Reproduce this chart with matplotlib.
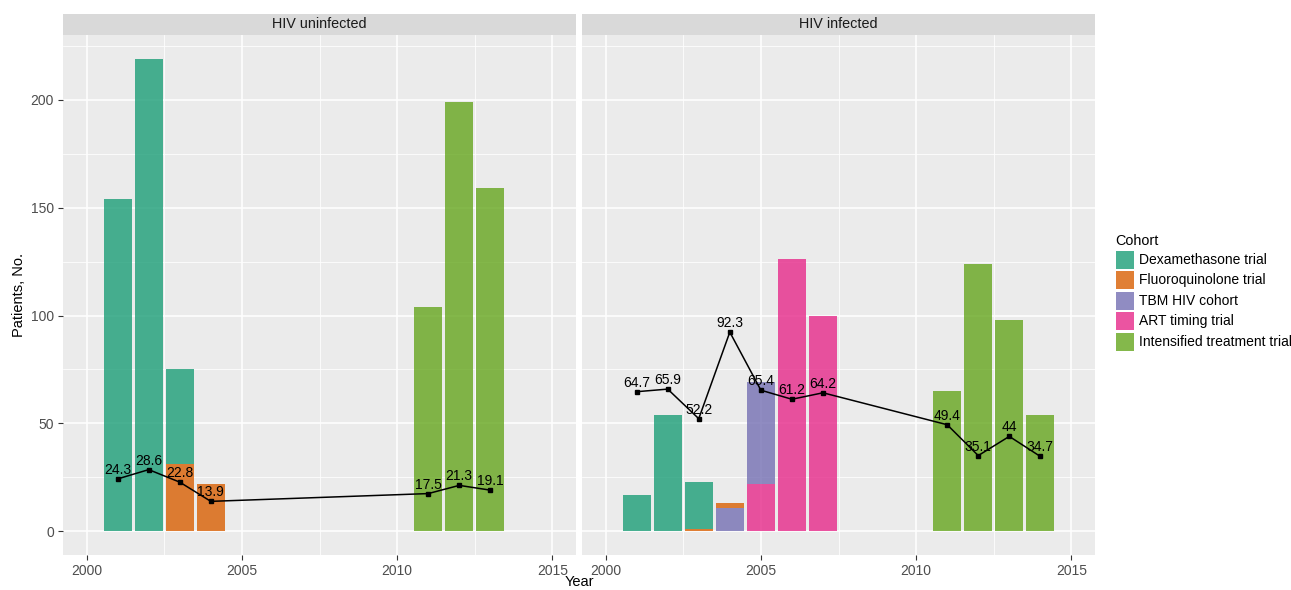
import matplotlib
matplotlib.use("Agg")
import matplotlib.pyplot as plt
from matplotlib.patches import Rectangle
import numpy as np

plt.rcParams['font.family'] = ['Liberation Sans', 'DejaVu Sans']

cohorts = ["Dexamethasone trial", "Fluoroquinolone trial", "TBM HIV cohort",
           "ART timing trial", "Intensified treatment trial"]
colors = ["#1B9E77", "#D95F02", "#7570B3", "#E7298A", "#66A61E"]

# HIV uninfected
years_un = [2001, 2002, 2003, 2004, 2011, 2012, 2013]
dexa_un = [154, 219, 44, 0, 0, 0, 0]
fluoro_un = [0, 0, 31, 22, 0, 0, 0]
tbm_un = [0, 0, 0, 0, 0, 0, 0]
art_un = [0, 0, 0, 0, 0, 0, 0]
intens_un = [0, 0, 0, 0, 104, 199, 159]
line_un = [24.3, 28.6, 22.8, 13.9, 17.5, 21.3, 19.1]

# HIV infected
years_in = [2001, 2002, 2003, 2004, 2005, 2006, 2007, 2011, 2012, 2013, 2014]
dexa_in = [17, 54, 22, 0, 0, 0, 0, 0, 0, 0, 0]
fluoro_in = [0, 0, 1, 2, 0, 0, 0, 0, 0, 0, 0]
tbm_in = [0, 0, 0, 11, 47, 0, 0, 0, 0, 0, 0]
art_in = [0, 0, 0, 0, 22, 126, 100, 0, 0, 0, 0]
intens_in = [0, 0, 0, 0, 0, 0, 0, 65, 124, 98, 54]
line_in = [64.7, 65.9, 52.2, 92.3, 65.4, 61.2, 64.2, 49.4, 35.1, 44, 34.7]

panels = [
    ("HIV uninfected", years_un, [dexa_un, fluoro_un, tbm_un, art_un, intens_un], line_un),
    ("HIV infected", years_in, [dexa_in, fluoro_in, tbm_in, art_in, intens_in], line_in),
]

W, H = 1291, 590
fig = plt.figure(figsize=(W / 100, H / 100), dpi=100)

panel_x = [63, 582]
pw = 513
ptop, pbot = 35, 555
strip_top = 14

ALPHA = 0.8
bg = "#EBEBEB"

for i, (title, years, stacks, line) in enumerate(panels):
    ax = fig.add_axes([panel_x[i] / W, (H - pbot) / H, pw / W, (pbot - ptop) / H])
    ax.set_facecolor(bg)
    for s in ax.spines.values():
        s.set_visible(False)
    ax.set_xlim(1999.24, 2015.76)
    ax.set_ylim(-10.95, 229.95)
    ax.set_xticks([2000, 2005, 2010, 2015])
    ax.set_xticks([2002.5, 2007.5, 2012.5], minor=True)
    ax.set_yticks([0, 50, 100, 150, 200])
    ax.set_yticks([25, 75, 125, 175, 225], minor=True)
    ax.grid(which='major', color='white', linewidth=1.1)
    ax.grid(which='minor', color='white', linewidth=0.55)
    ax.set_axisbelow(True)
    ax.tick_params(axis='both', which='major', colors='#333333', labelcolor='#4D4D4D',
                   labelsize=10, length=3.5, width=0.8, pad=3)
    ax.tick_params(axis='both', which='minor', length=0)
    if i == 1:
        ax.tick_params(axis='y', which='major', length=0, labelleft=False)
    # stacked bars: last cohort at bottom (ggplot order)
    bottom = np.zeros(len(years))
    for k in reversed(range(len(cohorts))):
        vals = np.array(stacks[k], dtype=float)
        ax.bar(years, vals, width=0.9, bottom=bottom, color=colors[k], alpha=ALPHA,
               linewidth=0, zorder=2)
        bottom += vals
    ax.plot(years, line, color='black', linewidth=1.1, marker='s', markersize=3.0, zorder=3)
    for x, y in zip(years, line):
        lab = f"{y:g}"
        ax.annotate(lab, (x, y), xytext=(0, 1.5), textcoords='offset points',
                    ha='center', va='bottom', fontsize=10, color='black', zorder=4)
    # strip
    sax = fig.add_axes([panel_x[i] / W, (H - ptop) / H, pw / W, (ptop - strip_top) / H])
    sax.set_facecolor("#D9D9D9")
    sax.set_xticks([]); sax.set_yticks([])
    for s in sax.spines.values():
        s.set_visible(False)
    sax.text(0.5, 0.5, title, ha='center', va='center', fontsize=10.4, color='#1A1A1A',
             transform=sax.transAxes)
    if i == 0:
        ax.set_ylabel("Patients, No.", fontsize=10.5, color='black', labelpad=3)

fig.text(579 / W, 1 - 582 / H, "Year", ha='center', va='center', fontsize=10.5, color='black')

# legend
fig.text(1115 / W, 1 - 241 / H, "Cohort", ha='left', va='center', fontsize=10.4, color='black')
key_x, key_w, key_h = 1116, 18, 18
for k, name in enumerate(cohorts):
    y_top = 251 + k * 20.4
    fig.patches.append(Rectangle((key_x / W, 1 - (y_top + key_h) / H), key_w / W, key_h / H,
                                 transform=fig.transFigure, facecolor=colors[k], alpha=ALPHA,
                                 edgecolor='none'))
    fig.text(1139 / W, 1 - (y_top + key_h / 2) / H, name, ha='left', va='center',
             fontsize=10, color='black')

fig.savefig("out.png", dpi=100)
